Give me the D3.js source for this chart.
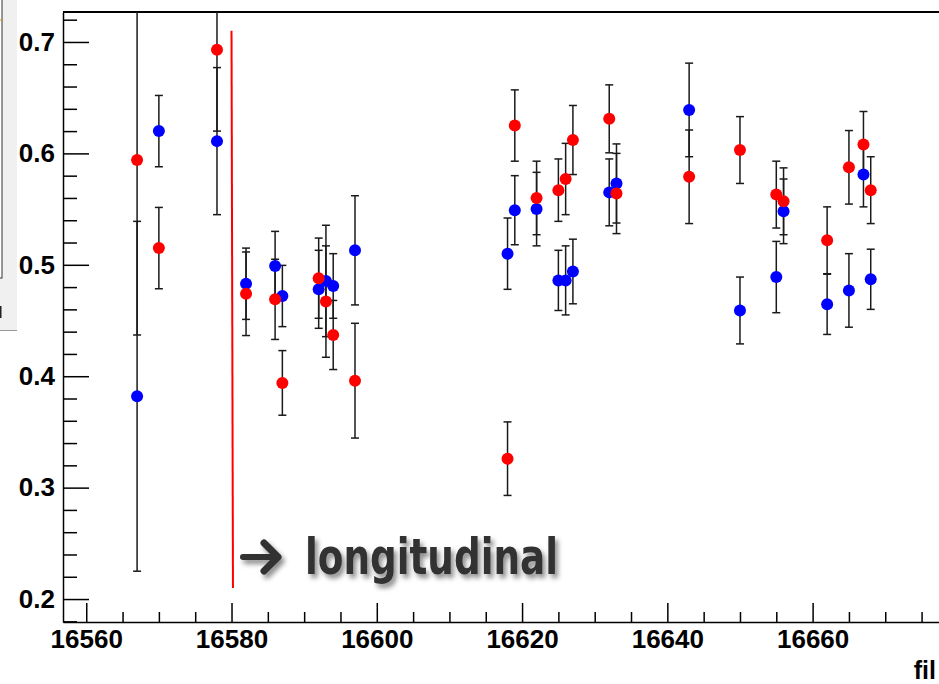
<!DOCTYPE html>
<html>
<head>
<meta charset="utf-8">
<script src="https://cdn.jsdelivr.net/npm/d3@7"></script>
<style>
body { margin: 0; background: #fff; }
svg { display: block; }
.axis text { font-family: "Liberation Sans", Arial, sans-serif; font-weight: bold; font-size: 26px; fill: #000; }
.axis line, .axis path { stroke: #000; stroke-width: 1.5; }
</style>
</head>
<body>
<div id="chart"></div>
<script>
// run numbers (x) and the two measured series with their errors
const runs = [16567, 16570, 16578, 16582, 16586, 16587, 16592, 16593, 16594, 16597, 16618, 16619, 16622, 16625, 16626, 16627, 16632, 16633, 16643, 16650, 16655, 16656, 16662, 16665, 16667, 16668]
const blueVals = [0.382, 0.620, 0.611, 0.483, 0.499, 0.472, 0.478, 0.4855, 0.481, 0.513, 0.510, 0.549, 0.550, 0.486, 0.486, 0.494, 0.565, 0.573, 0.639, 0.459, 0.489, 0.548, 0.4645, 0.477, 0.581, 0.487]
const blueErrs = [0.157, 0.032, 0.066, 0.032, 0.031, 0.0275, 0.035, 0.050, 0.029, 0.049, 0.032, 0.031, 0.033, 0.027, 0.031, 0.029, 0.030, 0.0355, 0.042, 0.030, 0.032, 0.029, 0.027, 0.033, 0.029, 0.027]
const redVals = [0.594, 0.515, 0.693, 0.474, 0.469, 0.394, 0.488, 0.467, 0.437, 0.396, 0.326, 0.625, 0.560, 0.567, 0.577, 0.612, 0.631, 0.564, 0.579, 0.603, 0.563, 0.557, 0.522, 0.5875, 0.608, 0.567]
const redErrs = [0.157, 0.0365, 0.073, 0.0375, 0.036, 0.029, 0.036, 0.050, 0.031, 0.0515, 0.033, 0.032, 0.033, 0.028, 0.032, 0.031, 0.0305, 0.036, 0.042, 0.030, 0.030, 0.030, 0.030, 0.033, 0.0296, 0.030]

const xMajorTicks = [16560, 16580, 16600, 16620, 16640, 16660]
const yMajorTicks = [0.2, 0.3, 0.4, 0.5, 0.6, 0.7]
const cutRun = 16580
const cutRange = [0.71, 0.21]
const noteText = "longitudinal"
const xTitle = "fil"

const width = 939
const height = 684
const frame = { left: 63, right: 939, top: 12, bottom: 622 }

const svg = d3.select("#chart").append("svg").attr("width", width).attr("height", height)

const defs = svg.append("defs")
const shadow = defs.append("filter").attr("id", "shadow").attr("x", "-10%").attr("y", "-30%").attr("width", "130%").attr("height", "170%")
shadow.append("feDropShadow").attr("dx", 3).attr("dy", 4).attr("stdDeviation", 2.5).attr("flood-color", "#000").attr("flood-opacity", 0.45)
defs.append("clipPath").attr("id", "frameClip").append("rect")
    .attr("x", frame.left).attr("y", frame.top).attr("width", frame.right - frame.left).attr("height", frame.bottom - frame.top)

// leftover edge of a neighbouring window
const sidePanel = svg.append("g").attr("id", "sidePanel")
sidePanel.append("rect").attr("x", 0).attr("y", 0).attr("width", 17).attr("height", 330).attr("fill", "#f0f0f0")
sidePanel.append("rect").attr("x", -5).attr("y", -5).attr("width", 7).attr("height", 283).attr("fill", "#fff").attr("stroke", "#333").attr("stroke-width", 1)
sidePanel.append("line").attr("x1", 0).attr("x2", 2).attr("y1", 20).attr("y2", 20).attr("stroke", "#c90").attr("stroke-width", 1)
sidePanel.append("line").attr("x1", 0).attr("x2", 17).attr("y1", 330.5).attr("y2", 330.5).attr("stroke", "#999").attr("stroke-width", 1)
sidePanel.append("rect").attr("x", 0).attr("y", 306).attr("width", 1.5).attr("height", 12).attr("fill", "#222")

const x = d3.scaleLinear().domain([16556.8, 16677.4]).range([frame.left, frame.right])
const y = d3.scaleLinear().domain([0.1794, 0.7269]).range([frame.bottom, frame.top])

const xMinorTicks = d3.range(16560, 16680, 5).filter(t => !xMajorTicks.includes(t))
const yMinorTicks = d3.range(0.18, 0.73, 0.02).map(t => +t.toFixed(2)).filter(t => !yMajorTicks.some(m => Math.abs(m - t) < 1e-6))

const axisGroup = svg.append("g").attr("id", "axisGroup")

axisGroup.append("g").attr("class", "axis").attr("transform", `translate(0, ${frame.bottom})`)
    .call(d3.axisBottom(x).tickValues(xMinorTicks).tickSize(-10).tickFormat(""))
    .call(g => g.select(".domain").remove())
axisGroup.append("g").attr("class", "axis").attr("transform", `translate(0, ${frame.bottom})`)
    .call(d3.axisBottom(x).tickValues(xMajorTicks).tickSize(-19).tickSizeOuter(0).tickPadding(8).tickFormat(d3.format("d")))

axisGroup.append("g").attr("class", "axis").attr("transform", `translate(${frame.left}, 0)`)
    .call(d3.axisLeft(y).tickValues(yMinorTicks).tickSize(-14).tickFormat(""))
    .call(g => g.select(".domain").remove())
axisGroup.append("g").attr("class", "axis").attr("transform", `translate(${frame.left}, 0)`)
    .call(d3.axisLeft(y).tickValues(yMajorTicks).tickSize(-26).tickSizeOuter(0).tickPadding(8).tickFormat(d3.format(".1f")))

axisGroup.append("line").attr("x1", frame.left).attr("x2", frame.right).attr("y1", frame.top).attr("y2", frame.top)
    .attr("stroke", "#000").attr("stroke-width", 2)

axisGroup.append("text").attr("class", "axis")
    .attr("x", 936).attr("y", 679).attr("text-anchor", "end")
    .style("font-family", "'Liberation Sans', Arial, sans-serif").style("font-weight", "bold").style("font-size", "25px")
    .text(xTitle)

// data
const blue = runs.map((r, i) => ({ run: r, val: blueVals[i], err: blueErrs[i], colour: "#0000ff" }))
const red = runs.map((r, i) => ({ run: r, val: redVals[i], err: redErrs[i], colour: "#ff0000" }))
const points = blue.concat(red)

const elementGroup = svg.append("g").attr("id", "elementGroup").attr("clip-path", "url(#frameClip)")

const bars = elementGroup.append("g").attr("stroke", "#1a1a1a").attr("stroke-width", 1.5)
bars.selectAll("line.bar").data(points).enter().append("line").attr("class", "bar")
    .attr("x1", d => x(d.run)).attr("x2", d => x(d.run))
    .attr("y1", d => y(d.val + d.err)).attr("y2", d => y(d.val - d.err))
bars.selectAll("line.capTop").data(points).enter().append("line").attr("class", "capTop")
    .attr("x1", d => x(d.run) - 4).attr("x2", d => x(d.run) + 4)
    .attr("y1", d => y(d.val + d.err)).attr("y2", d => y(d.val + d.err))
bars.selectAll("line.capBot").data(points).enter().append("line").attr("class", "capBot")
    .attr("x1", d => x(d.run) - 4).attr("x2", d => x(d.run) + 4)
    .attr("y1", d => y(d.val - d.err)).attr("y2", d => y(d.val - d.err))

elementGroup.selectAll("circle").data(points).enter().append("circle")
    .attr("cx", d => x(d.run)).attr("cy", d => y(d.val)).attr("r", 6)
    .attr("fill", d => d.colour)

// hand drawn cut marker and note
svg.append("line")
    .attr("x1", x(cutRun)).attr("x2", x(cutRun + 0.2))
    .attr("y1", y(cutRange[0])).attr("y2", y(cutRange[1]))
    .attr("stroke", "#ff0000").attr("stroke-width", 2)

const note = svg.append("g").attr("filter", "url(#shadow)")
note.append("path")
    .attr("d", d3.line()([[243, 557], [277, 557]]))
    .attr("stroke", "#333").attr("stroke-width", 6).attr("stroke-linecap", "round").attr("fill", "none")
note.append("path")
    .attr("d", d3.line()([[264, 543], [278, 557], [264, 571]]))
    .attr("stroke", "#333").attr("stroke-width", 7).attr("stroke-linecap", "round").attr("stroke-linejoin", "round").attr("fill", "none")
note.append("text").attr("x", 305).attr("y", 574).attr("fill", "#333")
    .style("font-family", "'DejaVu Sans', sans-serif").style("font-weight", "bold").style("font-size", "49px")
    .attr("textLength", 253).attr("lengthAdjust", "spacingAndGlyphs")
    .text(noteText)
</script>
</body>
</html>
